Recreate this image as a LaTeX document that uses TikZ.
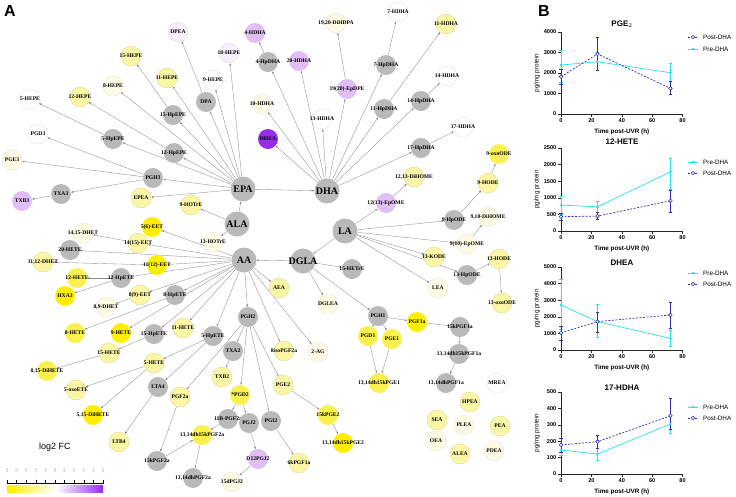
\documentclass[tikz,border=0pt]{standalone}
\usepackage{fontspec}
\setmainfont{Liberation Serif}
\setsansfont{Liberation Sans}
\usetikzlibrary{arrows.meta}

\definecolor{metgray}{RGB}{185,185,185}
\definecolor{ystrong}{RGB}{255,238,0}
\definecolor{ymid}{RGB}{250,240,80}
\definecolor{ylight}{RGB}{251,246,165}
\definecolor{yvlight}{RGB}{253,251,228}
\definecolor{plight}{RGB}{226,190,246}
\definecolor{pvlight}{RGB}{247,238,251}
\definecolor{pstrong}{RGB}{150,45,232}
\definecolor{prec}{RGB}{40,225,235}
\definecolor{postc}{RGB}{45,45,175}

\pgfdeclarelayer{bg}
\pgfsetlayers{bg,main}

\tikzset{
    met/.style={circle, minimum size=20pt, inner sep=0pt, label={[mtext]center:{#1}}},
    mtext/.style={font=\bfseries\fontsize{5.6}{6}\selectfont, inner sep=0pt},
    hub/.style={circle, fill=metgray, minimum size=25pt, inner sep=0pt, label={[htext]center:{#1}}},
    htext/.style={font=\bfseries\fontsize{10}{10}\selectfont, inner sep=0pt},
    gy/.style={fill=metgray},
    ys/.style={fill=ystrong},
    ym/.style={fill=ymid},
    yl/.style={fill=ylight, draw=ylight!85!black, line width=0.3pt},
    yv/.style={fill=yvlight, draw=black!12, line width=0.3pt},
    wh/.style={fill=white, draw=black!15, line width=0.3pt},
    pv/.style={fill=pvlight, draw=black!12, line width=0.3pt},
    pl/.style={fill=plight},
    pd/.style={fill=pstrong},
    link/.style={draw=black!45, line width=0.35pt, ->},
    caxis/.style={line width=0.5pt, black!85},
    ctick/.style={font=\sffamily\bfseries\fontsize{5.6}{6}\selectfont, inner sep=1.5pt, black},
    ytick/.style={ctick, left},
    xtick/.style={ctick, below},
    xlab/.style={font=\sffamily\bfseries\fontsize{6.3}{7}\selectfont, below=11pt},
    ylab/.style={font=\sffamily\fontsize{6.3}{7}\selectfont, rotate=90},
    ctitle/.style={font=\sffamily\bfseries\fontsize{8}{8}\selectfont},
    legtext/.style={font=\sffamily\fontsize{6.3}{7}\selectfont, anchor=west, inner sep=0pt},
    preline/.style={prec, line width=0.7pt},
    postline/.style={postc, line width=0.7pt, dash pattern=on 2pt off 1.5pt},
    errpre/.style={prec, line width=0.5pt, {Bar[width=3.5pt]}-{Bar[width=3.5pt]}},
    errpost/.style={postc, line width=0.5pt, {Bar[width=3.5pt]}-{Bar[width=3.5pt]}},
    premk/.style={fill=prec},
    postmk/.style={draw=postc, fill=white, line width=0.6pt},
}

\begin{document}
\begin{tikzpicture}[x=1pt, y=-1pt, >={Stealth[length=2.6pt,width=1.8pt]}]
    \useasboundingbox (0,0) rectangle (736,496);

    \node[font=\sffamily\bfseries\fontsize{16}{16}\selectfont] (panelA) at (10,11) {A};
    \node[font=\sffamily\bfseries\fontsize{16}{16}\selectfont] (panelB) at (544,11) {B};

    % precursors
    \node[hub={EPA}] (epa) at (243,189) {};
    \node[hub={DHA}] (dha) at (327,191) {};
    \node[hub={ALA}] (ala) at (237,224) {};
    \node[hub={AA}] (aa) at (244,260) {};
    \node[hub={LA}] (la) at (345,231) {};
    \node[hub={DGLA}] (dgla) at (303,261) {};

    % EPA / DHA side
    \node[met={DPEA}, pv] (dpea) at (178,32) {};
    \node[met={4-HDHA}, pl] (hdha4) at (255,33) {};
    \node[met={18-HEPE}, pv] (hepe18) at (229,53) {};
    \node[met={4-HpDHA}, gy] (hpdha4) at (268,62) {};
    \node[met={15-HEPE}, yl] (hepe15) at (131,56) {};
    \node[met={11-HEPE}, yl] (hepe11) at (167,78) {};
    \node[met={9-HEPE}, wh] (hepe9) at (213,80) {};
    \node[met={8-HEPE}, yv] (hepe8) at (113,86) {};
    \node[met={5-HEPE}, wh] (hepe5) at (30,99) {};
    \node[met={12-HEPE}, yl] (hepe12) at (80,97) {};
    \node[met={DPA}, gy] (dpa) at (206,102) {};
    \node[met={10-HDHA}, yv] (hdha10) at (262,104) {};
    \node[met={15-HpEPE}, gy] (hpepe15) at (173,115) {};
    \node[met={5-HpEPE}, gy] (hpepe5) at (113,139) {};
    \node[met={PGD3}, wh] (pgd3) at (38,134) {};
    \node[met={DHEA}, pd] (dhea) at (268,139) {};
    \node[met={12-HpEPE}, gy] (hpepe12) at (174,153) {};
    \node[met={PGE3}, yv] (pge3) at (12,160) {};
    \node[met={19,20-DiHDPA}, yv] (dihdpa) at (336,23) {};
    \node[met={7-HDHA}, wh] (hdha7) at (398,12) {};
    \node[met={11-HDHA}, yl] (hdha11) at (446,24) {};
    \node[met={20-HDHA}, pl] (hdha20) at (299,61) {};
    \node[met={7-HpDHA}, gy] (hpdha7) at (386,65) {};
    \node[met={19(20)-EpDPE}, pl] (epdpe) at (347,89) {};
    \node[met={14-HDHA}, wh] (hdha14) at (447,76) {};
    \node[met={14-HpDHA}, gy] (hpdha14) at (421,101) {};
    \node[met={11-HpDHA}, gy] (hpdha11) at (384,109) {};
    \node[met={13-HDHA}, wh] (hdha13) at (322,119) {};
    \node[met={17-HDHA}, wh] (hdha17) at (463,127) {};
    \node[met={17-HpDHA}, gy] (hpdha17) at (421,148) {};
    \node[met={PGH3}, gy] (pgh3) at (153,178) {};
    \node[met={TXA3}, gy] (txa3) at (61,194) {};
    \node[met={TXB3}, pl] (txb3) at (22,201) {};
    \node[met={EPEA}, yl] (epea) at (141,198) {};
    \node[met={9-HOTrE}, yl] (hotre9) at (191,205) {};
    \node[met={13-HOTrE}, yv] (hotre13) at (213,242) {};

    % AA side
    \node[met={5(6)-EET}, ys] (eet56) at (152,227) {};
    \node[met={14,15-DHET}, yv] (dhet1415) at (83,233) {};
    \node[met={14(15)-EET}, yl] (eet1415) at (138,243) {};
    \node[met={20-HETE}, gy] (hete20) at (70,250) {};
    \node[met={11,12-DHET}, yl] (dhet1112) at (43,262) {};
    \node[met={11(12)-EET}, ys] (eet1112) at (157,265) {};
    \node[met={12-HETE}, ym] (hete12) at (77,278) {};
    \node[met={12-HpETE}, gy] (hpete12) at (121,278) {};
    \node[met={HXA3}, ys] (hxa3) at (65,296) {};
    \node[met={8(9)-EET}, yl] (eet89) at (140,295) {};
    \node[met={8-HpETE}, gy] (hpete8) at (175,295) {};
    \node[met={8,9-DHET}, yv] (dhet89) at (106,307) {};
    \node[met={PGH2}, gy] (pgh2) at (248,317) {};
    \node[met={AEA}, yl] (aea) at (279,288) {};
    \node[met={8-HETE}, ym] (hete8) at (75,333) {};
    \node[met={9-HETE}, ys] (hete9) at (121,333) {};
    \node[met={15-HpETE}, gy] (hpete15) at (154,334) {};
    \node[met={11-HETE}, yl] (hete11) at (183,328) {};
    \node[met={5-HpETE}, gy] (hpete5) at (213,336) {};
    \node[met={15-HETE}, yl] (hete15) at (109,353) {};
    \node[met={TXA2}, gy] (txa2) at (233,351) {};
    \node[met={8,15-DiHETE}, ym] (dihete815) at (47,371) {};
    \node[met={5-HETE}, yl] (hete5) at (154,363) {};
    \node[met={TXB2}, yl] (txb2) at (222,377) {};
    \node[met={5-oxoETE}, yl] (oxoete5) at (76,390) {};
    \node[met={LTA4}, gy] (lta4) at (158,387) {};
    \node[met={PGF2a}, yl] (pgf2a) at (180,397) {};
    \node[met={*PGD2}, ym] (pgd2) at (240,395) {};
    \node[met={5,15-DiHETE}, ys] (dihete515) at (93,415) {};
    \node[met={11B-PGF2a}, gy] (bpgf2a11) at (228,419) {};
    \node[met={PGJ2}, gy] (pgj2) at (249,423) {};
    \node[met={PGI2}, gy] (pgi2) at (271,421) {};
    \node[met={13,14dh15kPGF2a}, ym] (dhkpgf2a) at (202,435) {};
    \node[met={LTB4}, yl] (ltb4) at (119,442) {};
    \node[met={D12PGJ2}, pl] (dpgj212) at (258,459) {};
    \node[met={15kPGF2a}, gy] (kpgf2a15) at (157,461) {};
    \node[met={13,14dhPGF2a}, gy] (dhpgf2a) at (193,478) {};
    \node[met={15dPGJ2}, yv] (dpgj215) at (232,482) {};
    \node[met={8isoPGF2a}, yl] (isopgf2a) at (284,351) {};
    \node[met={2-AG}, yv] (ag2) at (318,352) {};
    \node[met={PGE2}, yl] (pge2) at (283,385) {};
    \node[met={15kPGE2}, ym] (kpge215) at (328,415) {};
    \node[met={13,14dh15kPGE2}, ys] (dhkpge2) at (343,443) {};
    \node[met={6kPGF1a}, yl] (kpgf1a6) at (299,463) {};

    % LA / DGLA side
    \node[met={12,13-DiHOME}, yl] (dihome1213) at (414,177) {};
    \node[met={9-HODE}, yl] (hode9) at (488,183) {};
    \node[met={9-oxoODE}, ym] (oxoode9) at (499,154) {};
    \node[met={12(13)-EpOME}, pl] (epome1213) at (386,203) {};
    \node[met={9-HpODE}, gy] (hpode9) at (454,220) {};
    \node[met={9,10-DiHOME}, yv] (dihome910) at (488,217) {};
    \node[met={9(10)-EpOME}, yv] (epome910) at (467,244) {};
    \node[met={15-HETrE}, gy] (hetre15) at (352,269) {};
    \node[met={13-KODE}, yl] (kode13) at (434,257) {};
    \node[met={13-HODE}, yl] (hode13) at (499,259) {};
    \node[met={13-HpODE}, gy] (hpode13) at (467,275) {};
    \node[met={LEA}, yv] (lea) at (438,288) {};
    \node[met={DGLEA}, yv] (dglea) at (328,304) {};
    \node[met={13-oxoODE}, yl] (oxoode13) at (502,303) {};
    \node[met={PGH1}, gy] (pgh1) at (378,316) {};
    \node[met={PGF1a}, ys] (pgf1a) at (417,322) {};
    \node[met={15kPGF1a}, gy] (kpgf1a15) at (460,327) {};
    \node[met={PGD1}, ym] (pgd1) at (368,336) {};
    \node[met={PGE1}, ym] (pge1) at (392,339) {};
    \node[met={13,14dh15kPGF1a}, gy] (dhkpgf1a) at (459,354) {};
    \node[met={13,14dh15kPGE1}, ym] (dhkpge1) at (379,383) {};
    \node[met={13,14dhPGF1a}, gy] (dhpgf1a) at (446,383) {};

    % ethanolamides without links
    \node[met={MREA}, wh] (mrea) at (497,383) {};
    \node[met={HPEA}, yl] (hpea) at (470,402) {};
    \node[met={SEA}, yl] (sea) at (437,420) {};
    \node[met={PLEA}, yv] (plea) at (464,425) {};
    \node[met={PEA}, yl] (pea) at (500,426) {};
    \node[met={OEA}, yv] (oea) at (436,441) {};
    \node[met={ALEA}, yl] (alea) at (460,454) {};
    \node[met={PDEA}, yv] (pdea) at (494,451) {};

    \begin{pgfonlayer}{bg}
        \path[link] (epa) edge (dpa) edge (hpepe15) edge (hpepe12) edge (hpepe5) edge (pgh3)
            edge (epea) edge (hepe18) edge (hepe9) edge (hepe11) edge (hepe8) edge (dha);
        \path[link] (dpa) edge (dpea);
        \path[link] (hpepe15) edge (hepe15);
        \path[link] (hpepe12) edge (hepe12);
        \path[link] (hpepe5) edge (hepe5);
        \path[link] (pgh3) edge (pgd3) edge (pge3) edge (txa3);
        \path[link] (txa3) edge (txb3);
        \path[link] (dha) edge (hpdha4) edge (hdha20) edge (hdha10) edge (dhea) edge (hdha13)
            edge (epdpe) edge (hpdha7) edge (hpdha11) edge (hpdha14) edge (hpdha17);
        \path[link] (hpdha4) edge (hdha4);
        \path[link] (hpdha7) edge (hdha7);
        \path[link] (hpdha11) edge (hdha11);
        \path[link] (hpdha14) edge (hdha14);
        \path[link] (hpdha17) edge (hdha17);
        \path[link] (epdpe) edge (dihdpa);
        \path[link] (ala) edge (epa) edge (hotre9) edge (hotre13);
        \path[link] (aa) edge (eet56) edge (eet1415) edge (hete20) edge (eet1112) edge (hpete12)
            edge (eet89) edge (hpete8) edge (hete9) edge (hpete15) edge (hete11) edge (hpete5)
            edge (pgh2) edge (aea) edge (isopgf2a) edge (ag2);
        \path[link] (eet1415) edge (dhet1415);
        \path[link] (eet1112) edge (dhet1112);
        \path[link] (eet89) edge (dhet89);
        \path[link] (hpete12) edge (hete12) edge (hxa3);
        \path[link] (hpete8) edge (hete8);
        \path[link] (hpete15) edge (hete15);
        \path[link] (hete15) edge (dihete815);
        \path[link] (hpete5) edge (hete5) edge (lta4);
        \path[link] (hete5) edge (oxoete5) edge (dihete515);
        \path[link] (lta4) edge (ltb4);
        \path[link] (pgh2) edge (txa2) edge (pgf2a) edge (pgd2) edge (pge2) edge (pgi2);
        \path[link] (txa2) edge (txb2);
        \path[link] (pgf2a) edge (kpgf2a15);
        \path[link] (kpgf2a15) edge (dhkpgf2a);
        \path[link] (bpgf2a11) edge (dhkpgf2a);
        \path[link] (dhkpgf2a) edge (dhpgf2a);
        \path[link] (pgd2) edge (bpgf2a11) edge (pgj2);
        \path[link] (pgj2) edge (dpgj212);
        \path[link] (dpgj212) edge (dpgj215);
        \path[link] (pge2) edge (kpge215);
        \path[link] (kpge215) edge (dhkpge2);
        \path[link] (pgi2) edge (kpgf1a6);
        \path[link] (la) edge (dgla) edge (epome1213) edge (hpode9) edge (epome910) edge (kode13)
            edge (hpode13) edge (lea);
        \path[link] (epome1213) edge (dihome1213);
        \path[link] (hpode9) edge (hode9);
        \path[link] (hode9) edge (oxoode9);
        \path[link] (epome910) edge (dihome910);
        \path[link] (hpode13) edge (hode13);
        \path[link] (hode13) edge (oxoode13);
        \path[link] (dgla) edge (aa) edge (hetre15) edge (dglea) edge (pgh1);
        \path[link] (pgh1) edge (pgd1) edge (pge1) edge (pgf1a);
        \path[link] (pgd1) edge (dhkpge1);
        \path[link] (pge1) edge (dhkpge1);
        \path[link] (pgf1a) edge (kpgf1a15);
        \path[link] (kpgf1a15) edge (dhkpgf1a);
        \path[link] (dhkpgf1a) edge (dhpgf1a);
    \end{pgfonlayer}

    % colour key
    \node[font=\sffamily\fontsize{9}{9}\selectfont] (fclabel) at (55,447) {log2 FC};
    \shade[left color=ystrong, right color=white] (7,485) rectangle (56,492);
    \shade[left color=white, right color=pstrong] (56,485) rectangle (103,492);
    \draw[line width=0.4pt] (7,483.5) -- (103,483.5);
    \foreach \i/\v in {0/-2.5,1/-2.0,2/-1.5,3/-1.0,4/-0.5,5/0.0,6/0.5,7/1.0,8/1.5,9/2.0,10/2.5} {
        \draw[line width=0.4pt] (7+9.6*\i,483.5) -- ++(0,-4);
        \node[font=\sffamily\fontsize{2.6}{3}\selectfont, text=black!60, rotate=90, inner sep=0pt] (cb\i) at (7+9.6*\i,471) {\v};
    }

    % PGE2
    \node[ctitle] (t1) at (622,24) {PGE$_2$};
    \begin{scope}[shift={(561,114)}, x=1.52pt, y=0.0205pt]
        \draw[caxis] (0,4000) -- (0,0) -- (80,0);
        \foreach \v in {0,1000,...,4000}
            \draw[caxis] (0,\v) -- ++(-3pt,0pt) node[ytick] (ya\v) {\v};
        \foreach \t in {0,20,...,80}
            \draw[caxis] (\t,0) -- ++(0pt,-2.5pt) node[xtick] (xa\t) {\t};
        \node[xlab] (xla) at (40,0) {Time post-UVR (h)};
        \node[ylab] (yla) at (-15.8,2000) {pg/mg protein};
        \draw[preline] (0,2390) -- (24,2550) -- (72,2015);
        \draw[postline] (0,1820) -- (24,2930) -- (72,1250);
        \draw[errpre] (0,1560) -- (0,3120);
        \draw[errpre] (24,2100) -- (24,3040);
        \draw[errpre] (72,1575) -- (72,2500);
        \draw[errpost] (0,1450) -- (0,2200);
        \draw[errpost] (24,2100) -- (24,3770);
        \draw[errpost] (72,930) -- (72,1610);
        \fill[premk] (0,2390) circle (1.5pt) (24,2550) circle (1.5pt) (72,2015) circle (1.5pt);
        \draw[postmk] (0,1820) circle (1.8pt) (24,2930) circle (1.8pt) (72,1250) circle (1.8pt);
    \end{scope}
    \draw[postline] (688,37) -- (698,37);
    \draw[postmk] (693,37) circle (1.8pt);
    \node[legtext] (l1a) at (703,37) {Post-DHA};
    \draw[preline] (688,49) -- (698,49);
    \fill[premk] (693,49) circle (1.5pt);
    \node[legtext] (l1b) at (703,49) {Pre-DHA};

    % 12-HETE
    \node[ctitle] (t2) at (622,142) {12-HETE};
    \begin{scope}[shift={(561,231)}, x=1.52pt, y=0.0332pt]
        \draw[caxis] (0,2500) -- (0,0) -- (80,0);
        \foreach \v in {0,500,...,2500}
            \draw[caxis] (0,\v) -- ++(-3pt,0pt) node[ytick] (yb\v) {\v};
        \foreach \t in {0,20,...,80}
            \draw[caxis] (\t,0) -- ++(0pt,-2.5pt) node[xtick] (xb\t) {\t};
        \node[xlab] (xlb) at (40,0) {Time post-UVR (h)};
        \node[ylab] (ylb) at (-15.8,1250) {pg/mg protein};
        \draw[preline] (0,780) -- (24,730) -- (72,1780);
        \draw[postline] (0,430) -- (24,450) -- (72,910);
        \draw[errpre] (0,500) -- (0,1050);
        \draw[errpre] (24,570) -- (24,900);
        \draw[errpre] (72,1240) -- (72,2200);
        \draw[errpost] (0,330) -- (0,530);
        \draw[errpost] (24,350) -- (24,560);
        \draw[errpost] (72,570) -- (72,1240);
        \fill[premk] (0,780) circle (1.5pt) (24,730) circle (1.5pt) (72,1780) circle (1.5pt);
        \draw[postmk] (0,430) circle (1.8pt) (24,450) circle (1.8pt) (72,910) circle (1.8pt);
    \end{scope}
    \draw[preline] (688,162) -- (698,162);
    \fill[premk] (693,162) circle (1.5pt);
    \node[legtext] (l2a) at (703,162) {Pre-DHA};
    \draw[postline] (688,173) -- (698,173);
    \draw[postmk] (693,173) circle (1.8pt);
    \node[legtext] (l2b) at (703,173) {Post-DHA};

    % DHEA
    \node[ctitle] (t3) at (622,263) {DHEA};
    \begin{scope}[shift={(561,350)}, x=1.52pt, y=0.0166pt]
        \draw[caxis] (0,5000) -- (0,0) -- (80,0);
        \foreach \v in {0,1000,...,5000}
            \draw[caxis] (0,\v) -- ++(-3pt,0pt) node[ytick] (yc\v) {\v};
        \foreach \t in {0,20,...,80}
            \draw[caxis] (\t,0) -- ++(0pt,-2.5pt) node[xtick] (xc\t) {\t};
        \node[xlab] (xlc) at (40,0) {Time post-UVR (h)};
        \node[ylab] (ylc) at (-15.8,2500) {pg/mg protein};
        \draw[preline] (0,2710) -- (24,1710) -- (72,700);
        \draw[postline] (0,1040) -- (24,1710) -- (72,2110);
        \draw[errpre] (0,1250) -- (0,4300);
        \draw[errpre] (24,740) -- (24,2770);
        \draw[errpre] (72,240) -- (72,1200);
        \draw[errpost] (0,600) -- (0,1450);
        \draw[errpost] (24,1040) -- (24,2310);
        \draw[errpost] (72,1320) -- (72,2910);
        \fill[premk] (0,2710) circle (1.5pt) (24,1710) circle (1.5pt) (72,700) circle (1.5pt);
        \draw[postmk] (0,1040) circle (1.8pt) (24,1710) circle (1.8pt) (72,2110) circle (1.8pt);
    \end{scope}
    \draw[preline] (688,273) -- (698,273);
    \fill[premk] (693,273) circle (1.5pt);
    \node[legtext] (l3a) at (703,273) {Pre-DHA};
    \draw[postline] (688,284) -- (698,284);
    \draw[postmk] (693,284) circle (1.8pt);
    \node[legtext] (l3b) at (703,284) {Post-DHA};

    % 17-HDHA
    \node[ctitle] (t4) at (622,388) {17-HDHA};
    \begin{scope}[shift={(561,474)}, x=1.52pt, y=0.164pt]
        \draw[caxis] (0,500) -- (0,0) -- (80,0);
        \foreach \v in {0,100,...,500}
            \draw[caxis] (0,\v) -- ++(-3pt,0pt) node[ytick] (yd\v) {\v};
        \foreach \t in {0,20,...,80}
            \draw[caxis] (\t,0) -- ++(0pt,-2.5pt) node[xtick] (xd\t) {\t};
        \node[xlab] (xld) at (40,0) {Time post-UVR (h)};
        \node[ylab] (yld) at (-15.8,250) {pg/mg protein};
        \draw[preline] (0,146) -- (24,122) -- (72,305);
        \draw[postline] (0,177) -- (24,197) -- (72,355);
        \draw[errpre] (0,112) -- (0,183);
        \draw[errpre] (24,85) -- (24,158);
        \draw[errpre] (72,250) -- (72,360);
        \draw[errpost] (0,134) -- (0,220);
        \draw[errpost] (24,158) -- (24,238);
        \draw[errpost] (72,274) -- (72,463);
        \fill[premk] (0,146) circle (1.5pt) (24,122) circle (1.5pt) (72,305) circle (1.5pt);
        \draw[postmk] (0,177) circle (1.8pt) (24,197) circle (1.8pt) (72,355) circle (1.8pt);
    \end{scope}
    \draw[preline] (688,407) -- (698,407);
    \fill[premk] (693,407) circle (1.5pt);
    \node[legtext] (l4a) at (703,407) {Pre-DHA};
    \draw[postline] (688,418) -- (698,418);
    \draw[postmk] (693,418) circle (1.8pt);
    \node[legtext] (l4b) at (703,418) {Post-DHA};
\end{tikzpicture}
\end{document}
